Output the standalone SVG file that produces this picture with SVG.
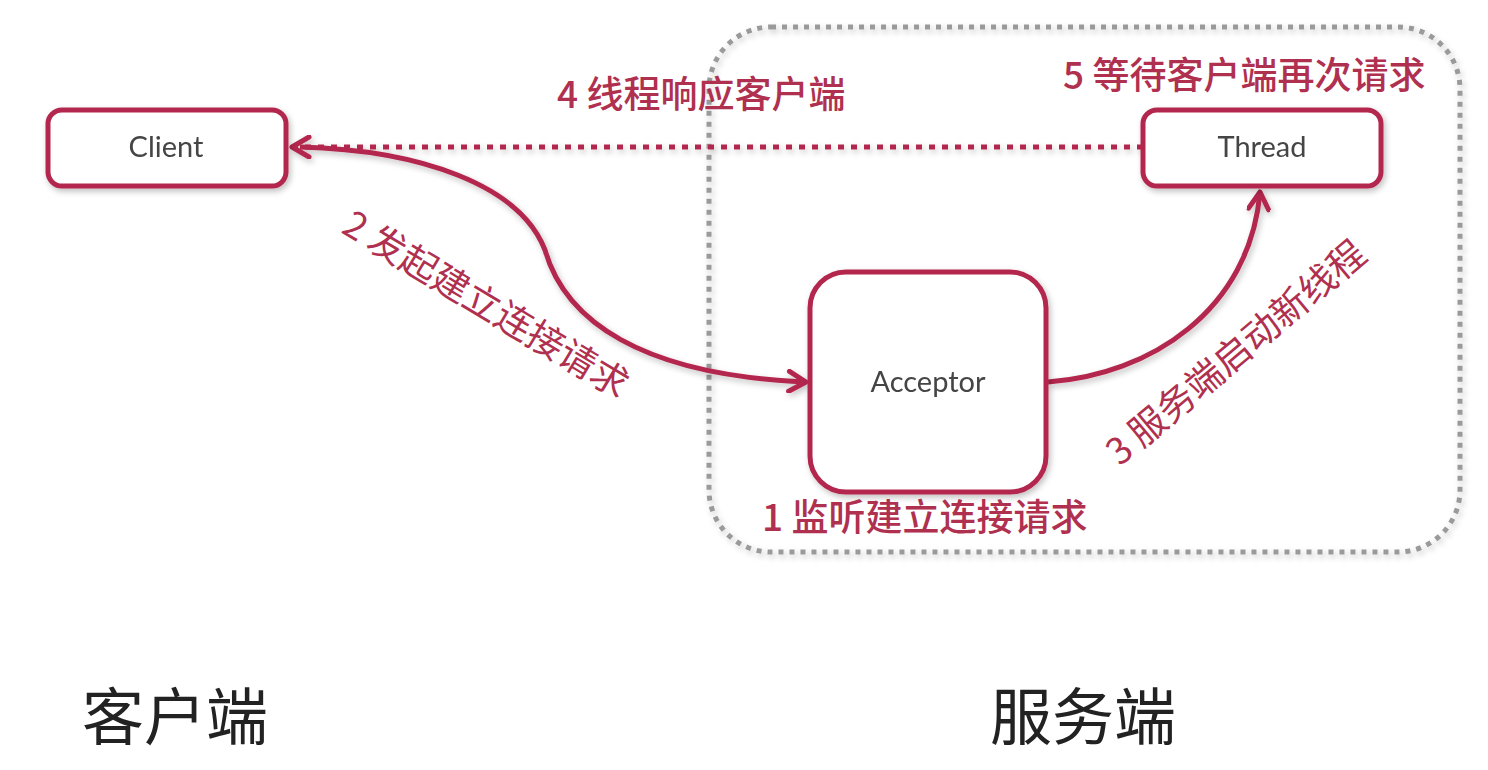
<svg xmlns="http://www.w3.org/2000/svg" width="1488" height="770" viewBox="0 0 1488 770">
<defs>
<filter id="sh" x="-10%" y="-10%" width="130%" height="130%">
<feGaussianBlur in="SourceAlpha" stdDeviation="3"/>
<feOffset dx="2" dy="3" result="b"/>
<feComponentTransfer><feFuncA type="linear" slope="0.25"/></feComponentTransfer>
<feMerge><feMergeNode/><feMergeNode in="SourceGraphic"/></feMerge>
</filter>
<marker id="ah" viewBox="0 0 24 24" refX="20" refY="12" markerWidth="24" markerHeight="24" markerUnits="userSpaceOnUse" orient="auto">
<path d="M3,2 L20,12 L3,22" fill="none" stroke="#b3284d" stroke-width="5" stroke-linecap="round" stroke-linejoin="round"/>
</marker>
</defs>
<style>
.box{fill:#fff;stroke:#b3284d;stroke-width:5}
.nl{font-family:Lato,"Open Sans",sans-serif;font-size:29px;fill:#444;text-anchor:middle}
.rl{font-family:"Noto Sans CJK SC",sans-serif;font-size:37px;font-weight:500;fill:#b0304f}
.thin{font-weight:400}
.big{font-family:"Noto Sans CJK SC",sans-serif;font-size:62px;fill:#222}
.conn{fill:none;stroke:#b3284d;stroke-width:5}
</style>
<rect width="1488" height="770" fill="#fff"/>
<g id="server-zone" filter="url(#sh)">
<rect x="709" y="27" width="751" height="525" rx="62" fill="none" stroke="#9a9a9a" stroke-width="5" stroke-dasharray="5 6"/>
</g>
<g id="connectors" filter="url(#sh)">
<path class="conn" d="M1143,147 L292,147" stroke-dasharray="6 7" marker-end="url(#ah)"/>
<path class="conn" d="M300,147 C420,150 520,185 545,250 C565,320 640,375 806,382" marker-end="url(#ah)"/>
<path class="conn" d="M1048,382 C1150,375 1250,310 1260,192" marker-end="url(#ah)"/>
</g>
<g id="client" filter="url(#sh)">
<rect class="box" x="48" y="110" width="238" height="76" rx="14"/>
<text class="nl" x="166" y="157">Client</text>
</g>
<g id="thread" filter="url(#sh)">
<rect class="box" x="1143" y="110" width="238" height="76" rx="14"/>
<text class="nl" x="1262" y="157">Thread</text>
</g>
<g id="acceptor" filter="url(#sh)">
<rect class="box" x="810" y="272" width="236" height="220" rx="36"/>
<text class="nl" x="928" y="392">Acceptor</text>
</g>
<g id="labels">
<text class="rl" x="557" y="108">4 线程响应客户端</text>
<text class="rl" x="1063" y="89">5 等待客户端再次请求</text>
<text class="rl" x="762" y="531">1 监听建立连接请求</text>
<text class="rl thin" transform="translate(340,232) rotate(31)">2 发起建立连接请求</text>
<text class="rl thin" transform="translate(1120,467) rotate(-40)">3 服务端启动新线程</text>
<text class="big" x="82" y="740">客户端</text>
<text class="big" x="990" y="740">服务端</text>
</g>
</svg>
